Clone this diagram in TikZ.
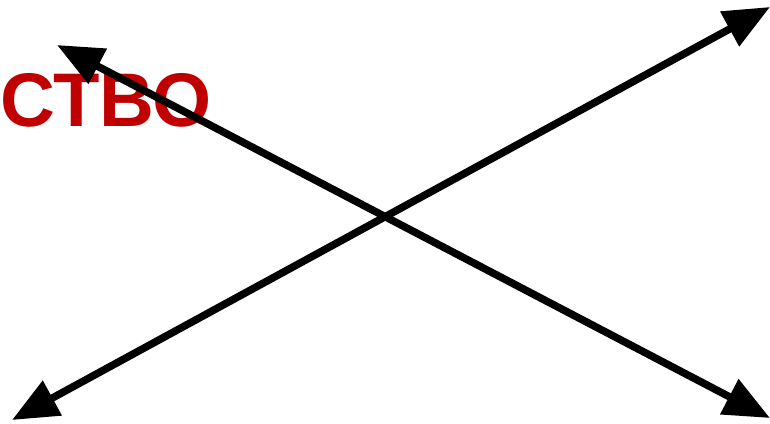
\documentclass[tikz,border=0pt]{standalone}
\usepackage{fontspec}
\setmainfont{Liberation Sans}
\usetikzlibrary{arrows.meta,positioning}
\definecolor{wordred}{RGB}{192,0,0}

\begin{document}
\begin{tikzpicture}[
  x=1pt, y=-1pt,
  arrow/.style={{Triangle[length=46pt,width=38pt]}-{Triangle[length=46pt,width=38pt]}, line width=7.5pt},
  word/.style={text=wordred, font=\fontsize{76}{82}\selectfont\bfseries, inner sep=0pt, anchor=base west}
]
\useasboundingbox (0,0) rectangle (770,423);

% ends of the two arrows
\coordinate (tl) at (57,45);
\coordinate (br) at (770,418);
\coordinate (bl) at (12,420);
\coordinate (tr) at (770,7);

\node[word] (ctvo) at (0,126) {СТВО};

\draw[arrow] (tl) -- (br);
\draw[arrow] (bl) -- (tr);

\end{tikzpicture}
\end{document}
